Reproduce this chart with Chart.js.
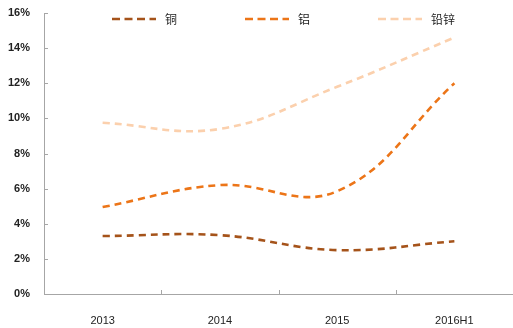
<!DOCTYPE html>
<html>
<head>
<meta charset="utf-8">
<script src="https://cdn.jsdelivr.net/npm/chart.js@4.4.0/dist/chart.umd.min.js"></script>
<style>
  html, body { margin: 0; padding: 0; background: #fff; }
  #wrap { position: relative; width: 513px; height: 328px; }
  #legend { position: absolute; top: 10px; left: 112px; display: flex; white-space: nowrap; font-family: "Noto Sans CJK SC", sans-serif; font-size: 12px; color: #222; }
  .item { display: flex; align-items: center; margin-right: 68px; }
  .item svg { margin-right: 9px; }
</style>
</head>
<body>
<div id="wrap">
  <canvas id="line_chart" width="513" height="328"></canvas>
  <div id="legend"></div>
</div>
<script>
// values in %
var years = ['2013', '2014', '2015', '2016H1'];
var seriesNames = ['铜', '铝', '铅锌'];
var copper = [3.3, 3.35, 2.5, 3.0];
var aluminium = [4.95, 6.2, 5.85, 12.0];
var leadZinc = [9.75, 9.4, 11.8, 14.6];
var colors = ['#a5531a', '#ec7518', '#fbd0ad'];

var axisColor = '#a6a6a6';

// little inner tick marks like the original
var innerTicks = {
    id: 'innerTicks',
    afterDraw: function (chart) {
        var ctx = chart.ctx;
        var x = chart.scales.x, y = chart.scales.y;
        ctx.save();
        ctx.strokeStyle = axisColor;
        ctx.lineWidth = 1;
        ctx.beginPath();
        y.ticks.forEach(function (t, i) {
            var py = Math.round(y.getPixelForTick(i)) + 0.5;
            ctx.moveTo(y.right, py);
            ctx.lineTo(y.right + 4, py);
        });
        for (var i = 1; i < years.length; i++) {
            var px = Math.round((x.getPixelForValue(i - 1) + x.getPixelForValue(i)) / 2) + 0.5;
            ctx.moveTo(px, x.top);
            ctx.lineTo(px, x.top - 4);
        }
        ctx.stroke();
        ctx.restore();
    }
};

var data_line = {
    labels: years,
    datasets: [copper, aluminium, leadZinc].map(function (vals, i) {
        return {
            label: seriesNames[i],
            data: vals,
            fill: false,
            borderColor: colors[i],
            borderWidth: 2.6,
            borderDash: [7, 5],
            tension: 0.4,
            pointRadius: 0
        };
    })
};

var config_line = {
    type: 'line',
    data: data_line,
    plugins: [innerTicks],
    options: {
        responsive: false,
        animation: false,
        layout: { padding: { top: 13, right: 0, left: 0, bottom: 0 } },
        plugins: {
            legend: { display: false },
            tooltip: { enabled: false }
        },
        scales: {
            x: {
                offset: true,
                grid: { display: false },
                border: { color: axisColor, width: 1 },
                ticks: {
                    padding: 12,
                    color: '#222',
                    font: { family: 'Liberation Sans', size: 11 }
                },
                afterFit: function (scale) { scale.height = 34; }
            },
            y: {
                min: 0,
                max: 16,
                grid: { display: false, drawTicks: false },
                border: { color: axisColor, width: 1 },
                ticks: {
                    stepSize: 2,
                    padding: 14,
                    color: '#222',
                    font: { family: 'Liberation Sans', size: 11, weight: 'bold' },
                    callback: function (v) { return v + '%'; }
                },
                afterFit: function (scale) {
                    scale.width = 44;
                    scale.paddingTop = 7;
                    scale.paddingBottom = 7;
                }
            }
        }
    }
};

var lineChart = new Chart(document.getElementById('line_chart'), config_line);

// legend built from the same series arrays
var legend = document.getElementById('legend');
seriesNames.forEach(function (name, i) {
    var item = document.createElement('div');
    item.className = 'item';
    item.innerHTML = '<svg width="44" height="6"><line x1="0" y1="3" x2="44" y2="3" stroke="' + colors[i] +
        '" stroke-width="2.6" stroke-dasharray="8,4.5"/></svg><span>' + name + '</span>';
    legend.appendChild(item);
});
</script>
</body>
</html>
